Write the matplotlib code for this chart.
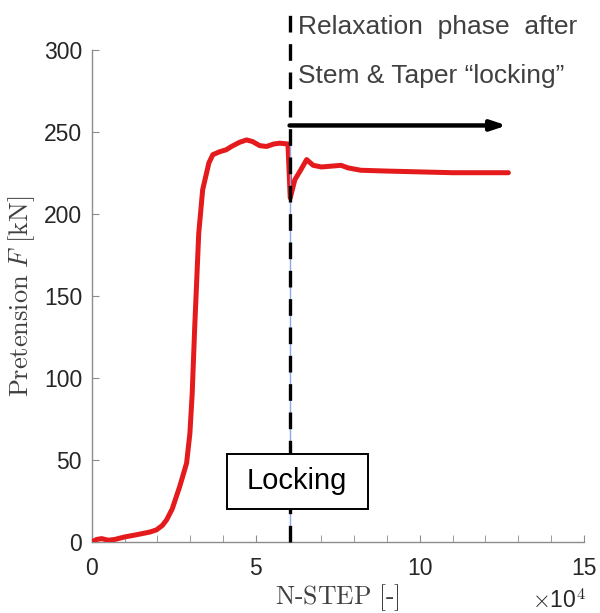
import numpy as np
import matplotlib
matplotlib.use("Agg")
import matplotlib.pyplot as plt
from matplotlib.patches import Rectangle

#
# Data (x in units of 1e4 steps, F in kN)
#
n_step = [0.0, 0.15, 0.3, 0.5, 0.7, 1.0, 1.4, 1.77, 1.97, 2.15, 2.28, 2.45,
          2.68, 2.89, 2.99, 3.06, 3.14, 3.26, 3.38, 3.57, 3.69, 3.9, 4.1, 4.26,
          4.5, 4.72, 4.9, 5.12, 5.33, 5.55, 5.73, 5.98, 6.05, 6.19, 6.35, 6.55,
          6.75, 7.0, 7.3, 7.6, 7.8, 8.2, 9.0, 10.0, 11.0, 12.7]
pretension = [0, 1.5, 2, 1, 1.5, 3, 4.5, 6, 7.3, 10, 13.4, 20,
              33.7, 48, 66, 90, 132, 188, 214.6, 231, 236, 237.8, 239, 241,
              243.5, 245, 244, 241.5, 241, 242.5, 243, 242.5, 209.6, 220.7, 226, 233,
              229.5, 228.5, 229, 229.5, 228, 226.5, 226, 225.5, 225, 225]

x_major = [0, 5, 10, 15]
y_major = [0, 50, 100, 150, 200, 250, 300]

locking_step = 6.03
arrow_level = 253.8
arrow_end = 12.65

grey_axis = "#8c8c8c"
grey_text = "#262626"

plt.rcParams["mathtext.fontset"] = "cm"

fig = plt.figure(figsize=(6, 6.13), dpi=100)
ax = fig.add_axes([0.153, 0.116, 0.82, 0.803])

# Main curve
ax.plot(n_step, pretension, color="#e41a1c", lw=3.6, solid_capstyle="round",
        solid_joinstyle="round", zorder=3)

# Locking line (thin blue under black dashes)
ax.plot([locking_step, locking_step], [0, 245], color="#8fa8e8", lw=1.0, zorder=4)
ax.plot([locking_step, locking_step], [0, 321], color="black", lw=2.4,
        dashes=(5, 3.5), clip_on=False, zorder=5)

# Relaxation arrow
ax.annotate("", xy=(arrow_end, arrow_level), xytext=(locking_step, arrow_level),
            arrowprops=dict(arrowstyle="-|>,head_length=0.9,head_width=0.3",
                            color="black", lw=3.2, shrinkA=0, shrinkB=0),
            zorder=6, annotation_clip=False)

# Text annotations
ax.text(6.28, 309.8, "Relaxation  phase  after", fontsize=19, color="#404040",
        family="Liberation Sans", ha="left", va="baseline", clip_on=False)
ax.text(6.28, 279.4, "Stem & Taper \u201clocking\u201d", fontsize=19, color="#404040",
        family="Liberation Sans", ha="left", va="baseline", clip_on=False)

# Locking box
ax.add_patch(Rectangle((4.12, 20.1), 4.29, 33.5, fc="white", ec="black",
                       lw=1.4, zorder=7))
ax.text(6.24, 37.0, "Locking", fontsize=21, color="black",
        family="Liberation Sans", ha="center", va="center", zorder=8)

# Axes style
ax.set_xlim(0, 15)
ax.set_ylim(0, 300)
ax.set_xticks(x_major)
ax.set_xticks(np.arange(0, 16, 1), minor=True)
ax.set_yticks(y_major)
for s in ["top", "right"]:
    ax.spines[s].set_visible(False)
for s in ["left", "bottom"]:
    ax.spines[s].set_color(grey_axis)
    ax.spines[s].set_linewidth(1.0)
ax.tick_params(which="both", direction="in", length=5, color=grey_axis,
               labelsize=16.5, labelcolor=grey_text)
ax.tick_params(axis="x", pad=11)
ax.tick_params(axis="y", pad=7)
for lbl in ax.get_xticklabels() + ax.get_yticklabels():
    lbl.set_family("Liberation Sans")

ax.set_xlabel(r"$\mathrm{N\text{-}STEP\ [\text{-}]}$", fontsize=18.5, color="#404040")
ax.set_ylabel(r"$\mathrm{Pretension}\ F\ \mathrm{[kN]}$", fontsize=19, color="#404040")
ax.xaxis.set_label_coords(0.5, -0.083)
ax.yaxis.set_label_coords(-0.112, 0.5)

fig.text(0.886, 0.008, r"$\times$10$^4$", fontsize=16.5, color=grey_text,
         family="Liberation Sans", ha="left", va="baseline")

fig.savefig("out.png", dpi=100)
